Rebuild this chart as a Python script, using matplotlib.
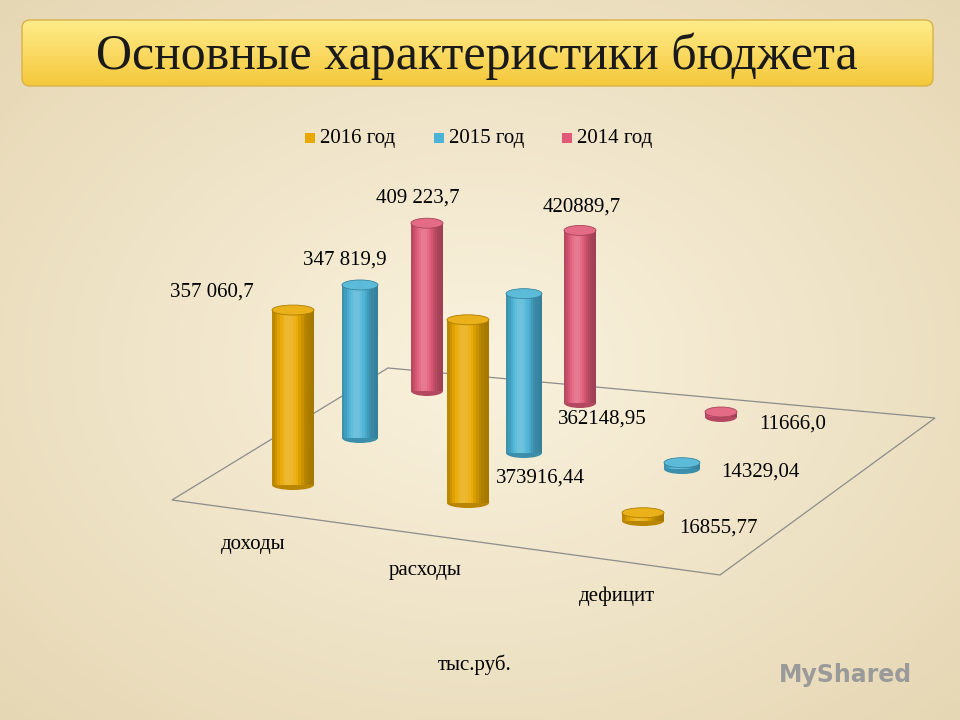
import matplotlib
matplotlib.use("Agg")
import matplotlib.pyplot as plt
import numpy as np
from matplotlib.patches import FancyBboxPatch, Ellipse, Rectangle, Polygon

categories = ["доходы", "расходы", "дефицит"]
series = ["2016 год", "2015 год", "2014 год"]
values = {
    "2016 год": [357060.7, 373916.44, 16855.77],
    "2015 год": [347819.9, 362148.95, 14329.04],
    "2014 год": [409223.7, 420889.7, 11666.0],
}
value_labels = {
    "2016 год": ["357 060,7", "373916,44", "16855,77"],
    "2015 год": ["347 819,9", "362148,95", "14329,04"],
    "2014 год": ["409 223,7", "420889,7", "11666,0"],
}
colors = {"2016 год": "#e8a800", "2015 год": "#4bb3d6", "2014 год": "#e05a78"}

fig = plt.figure(figsize=(9.6, 7.2), dpi=100)
ax = fig.add_axes([0, 0, 1, 1])
ax.set_xlim(0, 960); ax.set_ylim(720, 0); ax.axis("off")

yy, xx = np.mgrid[0:720, 0:960]
r = np.sqrt(((xx - 480) / 700) ** 2 + ((yy - 360) / 520) ** 2)
base = np.array([0.98, 0.95, 0.87]); edge = np.array([0.90, 0.84, 0.70])
t = np.clip(r, 0, 1)[..., None]
ax.imshow(base * (1 - t) + edge * t, extent=[0, 960, 720, 0], zorder=0)

grad = np.linspace(0, 1, 70)[:, None, None]
top = np.array([1.0, 0.93, 0.55]); bot = np.array([0.96, 0.78, 0.22])
im = ax.imshow(np.repeat(top * (1 - grad) + bot * grad, 2, axis=1),
               extent=[20, 935, 88, 18], zorder=1, aspect="auto")
ban = FancyBboxPatch((22, 20), 911, 66, boxstyle="round,pad=0,rounding_size=8",
                     fc="none", ec="#d9b24a", lw=1, zorder=2)
ax.add_patch(ban); im.set_clip_path(ban)
ax.text(477, 56, "Основные характеристики бюджета", fontsize=36,
        family="Liberation Serif", ha="center", va="center", color="#1a1a1a", zorder=3)

lx = [305, 434, 562]
for x, s in zip(lx, series):
    ax.add_patch(Rectangle((x, 133), 10, 10, fc=colors[s], ec="none", zorder=3))
    ax.text(x + 15, 138, s, fontsize=15, family="Liberation Serif", va="center", zorder=3)

floor = [(172, 500), (388, 368), (935, 418), (720, 575)]
ax.add_patch(Polygon(floor, closed=True, fc="none", ec="#8c8c8c", lw=0.9, zorder=2))

x0, y0 = 293, 485
cdx, cdy = 175, 18
sdx_c = [67, 56, 39]
sdy_c = [-47, -50, -52]
scales = [0.49, 0.44, 0.41]
radii = [21, 18, 16]

def shade(c, f):
    c = np.array(matplotlib.colors.to_rgb(c))
    return tuple(np.clip(c * f if f < 1 else c + (1 - c) * (f - 1), 0, 1))

for si in reversed(range(3)):
    s = series[si]
    for ci in range(3):
        bx = x0 + ci * cdx + si * sdx_c[ci]
        by = y0 + ci * cdy + si * sdy_c[ci]
        h = max(values[s][ci] / 1000 * scales[si], 5)
        rad = radii[si]; eh = 10
        z = 5 + (2 - si) * 3 + ci
        n = 16
        for k in range(n):
            u = (k + 0.5) / n
            f = 0.7 + 0.5 * np.exp(-((u - 0.4) / 0.3) ** 2)
            ax.add_patch(Rectangle((bx - rad + 2 * rad * k / n, by - h), 2 * rad / n + 0.3, h,
                                   fc=shade(colors[s], f), ec="none", zorder=z))
        ax.add_patch(Ellipse((bx, by), 2 * rad, eh, fc=shade(colors[s], 0.8), ec="none", zorder=z - 0.1))
        ax.add_patch(Ellipse((bx, by - h), 2 * rad, eh, fc=shade(colors[s], 1.1),
                             ec=shade(colors[s], 0.75), lw=0.6, zorder=z + 0.1))

lab_pos = {
    "2016 год": [(212, 292), (540, 478), (718, 528)],
    "2015 год": [(345, 260), (602, 419), (760, 472)],
    "2014 год": [(418, 198), (582, 207), (793, 424)],
}
for s in series:
    for ci in range(3):
        x, y = lab_pos[s][ci]
        ax.text(x, y, value_labels[s][ci], fontsize=15, family="Liberation Serif",
                ha="center", va="center", zorder=30)

for (x, y), c in zip([(253, 545), (425, 570), (617, 596)], categories):
    ax.text(x, y, c, fontsize=15, family="Liberation Serif", ha="center", va="center", zorder=30)
ax.text(475, 665, "тыс.руб.", fontsize=15, family="Liberation Serif", ha="center", va="center")
ax.text(845, 675, "MyShared", fontsize=17, color="#9a9a9a", ha="center", va="center", fontweight="bold")

fig.savefig("out.png", dpi=100)
